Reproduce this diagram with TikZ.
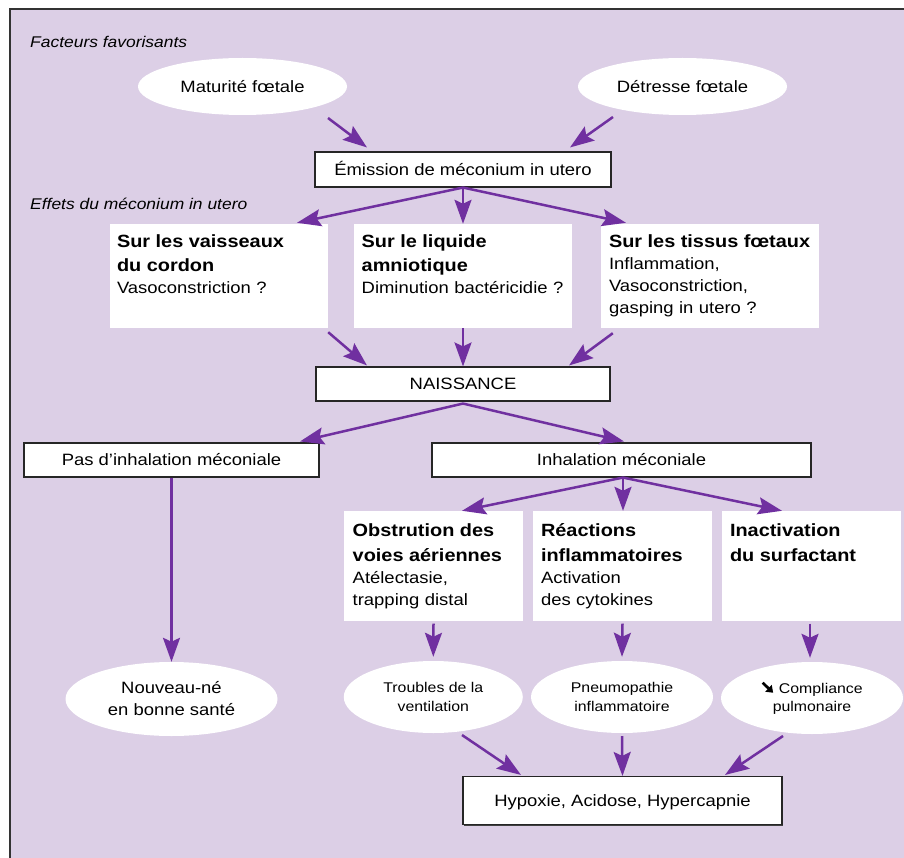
\documentclass[tikz,border=0pt]{standalone}
\usepackage{fontspec}
\setmainfont{Liberation Sans}[FakeStretch=1.125]
\usetikzlibrary{shapes.geometric,arrows.meta,shadows}

\definecolor{panelbg}{RGB}{220,207,230}
\definecolor{flowpurple}{RGB}{112,48,160}
\newcommand\effhead{\fontsize{17.7}{24.5}\selectfont\bfseries}
% heavy south-east arrow used as "decrease" sign
\newcommand\downarr{\tikz[x=1pt,y=1pt,baseline=0pt]{\draw[line width=2.7pt,
  -{Triangle[length=6.5pt,width=9pt]}] (0.5,10.5) -- (11,0.5);}}

\begin{document}
\begin{tikzpicture}[x=1pt,y=-1pt,
  txt/.style={font=\fontsize{16.4}{22}\selectfont, text=black},
  flowbox/.style={txt, draw=black!85, line width=1.1pt, fill=white, inner sep=0pt,
    text height=11.8pt, text depth=0pt,
    drop shadow={shadow xshift=1.2pt, shadow yshift=-1.2pt, fill=black!75, opacity=1}},
  bubble/.style={ellipse, fill=white, inner sep=0pt, align=center},
  effbox/.style={fill=white, inner sep=0pt},
  efftext/.style={txt, inner sep=0pt, text width=#1, anchor=base west, align=left},
  small/.style={font=\fontsize{14.1}{18.4}\selectfont},
  arr/.style={draw=flowpurple, line width=2.5pt,
    -{Stealth[length=24pt,width=17pt,inset=4pt]}},
  tag/.style={font=\fontsize{15.5}{18}\selectfont\itshape, anchor=base west, inner sep=0pt}
]
% panel
\useasboundingbox (0,0) rectangle (904,858);
\begin{scope}
  \clip (0,0) rectangle (904,858);
  \fill[panelbg, draw=black!80, line width=1.3pt] (10,9) rectangle (930,880);
\end{scope}

% contributing factors
\node[tag] (t1) at (30,47.7) {Facteurs favorisants};
\node[bubble, txt, minimum width=209pt, minimum height=57pt] (mat) at (242.5,86.5) {Maturité fœtale};
\node[bubble, txt, minimum width=209pt, minimum height=57pt] (det) at (682.5,86.5) {Détresse fœtale};
\node[flowbox, minimum width=296pt, minimum height=35pt] (emi) at (463,169.5) {Émission de méconium in utero};

% in utero effects
\node[tag] (t2) at (30,209.5) {Effets du méconium in utero};
\node[effbox, minimum width=218pt, minimum height=104pt] (b1) at (219,276) {};
\node[effbox, minimum width=218pt, minimum height=104pt] (b2) at (463,276) {};
\node[effbox, minimum width=218pt, minimum height=104pt] (b3) at (710,276) {};
\node[efftext=208pt] (b1t) at ([shift={(7,23.7)}]b1.north west)
  {{\effhead Sur les vaisseaux\par du cordon\par}Vasoconstriction ?};
\node[efftext=208pt] (b2t) at ([shift={(7.7,23.7)}]b2.north west)
  {{\effhead Sur le liquide\par amniotique\par}Diminution bactéricidie ?};
\node[efftext=208pt] (b3t) at ([shift={(8,23.7)}]b3.north west)
  {{\effhead Sur les tissus fœtaux\par}Inflammation,\par Vasoconstriction,\par gasping in utero ?};

% birth
\node[flowbox, minimum width=294pt, minimum height=34pt] (nai) at (463,384) {NAISSANCE};
\node[flowbox, minimum width=295pt, minimum height=34pt] (pas) at (171.5,460) {Pas d’inhalation méconiale};
\node[flowbox, minimum width=379pt, minimum height=34pt] (inh) at (621.5,460) {Inhalation méconiale};

% consequences of inhalation
\node[effbox, minimum width=179pt, minimum height=110pt] (rA) at (433.5,566) {};
\node[effbox, minimum width=179pt, minimum height=110pt] (rB) at (622.5,566) {};
\node[effbox, minimum width=179pt, minimum height=110pt] (rC) at (811.5,566) {};
\node[efftext=170pt] (rAt) at ([shift={(8.7,25.7)}]rA.north west)
  {{\effhead Obstrution des\par voies aériennes\par}Atélectasie,\par trapping distal};
\node[efftext=170pt] (rBt) at ([shift={(8,25.7)}]rB.north west)
  {{\effhead Réactions\par inflammatoires\par}Activation\par des cytokines};
\node[efftext=170pt] (rCt) at ([shift={(8,25.7)}]rC.north west)
  {{\effhead Inactivation\par du surfactant\par}};

% outcomes
\node[bubble, txt, minimum width=212pt, minimum height=74pt] (nb) at (171.5,699) {Nouveau-né\\en bonne santé};
\node[bubble, small, minimum width=179pt, minimum height=72pt] (el1) at (433.3,697) {Troubles de la\\ventilation};
\node[bubble, small, minimum width=182pt, minimum height=72pt] (el2) at (622,697) {Pneumopathie\\inflammatoire};
\node[bubble, small, minimum width=182pt, minimum height=72pt] (el3) at (812,698)
  {\downarr\ Compliance\\pulmonaire};
\node[flowbox, minimum width=319pt, minimum height=48pt] (hyp) at (622.5,800.5) {Hypoxie, Acidose, Hypercapnie};

% connectors
\draw[arr] ([shift={(85.5,31.5)}]mat.center) -- ([shift={(-96,-4)}]emi.north);
\draw[arr] ([shift={(-69.5,30.5)}]det.center) -- ([shift={(107,-4)}]emi.north);
\draw[arr] (emi.south) -- ([shift={(78,-1)}]b1.north);
\draw[arr] (emi.south) -- (b2.north);
\draw[arr] (emi.south) -- ([shift={(-84,-1)}]b3.north);
\draw[arr] ([shift={(0,4)}]b1.south east) -- ([shift={(-96,-1)}]nai.north);
\draw[arr] (b2.south) -- (nai.north);
\draw[arr] ([shift={(12,5)}]b3.south west) -- ([shift={(106,-1)}]nai.north);
\draw[arr] ([shift={(0,2)}]nai.south) -- ([shift={(128.5,-1)}]pas.north);
\draw[arr] ([shift={(0,2)}]nai.south) -- ([shift={(2.5,-1)}]inh.north);
\draw[arr] (pas.south) -- (nb.north);
\draw[arr] ([shift={(1.5,0)}]inh.south) -- ([shift={(28.5,0)}]rA.north);
\draw[arr] ([shift={(1.5,0)}]inh.south) -- ([shift={(0.5,0)}]rB.north);
\draw[arr] ([shift={(1.5,0)}]inh.south) -- ([shift={(-29.5,0)}]rC.north);
\draw[arr] ([shift={(0,2.5)}]rA.south) -- ([shift={(0,-4)}]el1.north);
\draw[arr] ([shift={(0,2.5)}]rB.south) -- ([shift={(0,-4)}]el2.north);
\draw[arr] ([shift={(-1.5,2.5)}]rC.south) -- ([shift={(-2,-4)}]el3.north);
\draw[arr] ([shift={(28.7,38)}]el1.center) -- ([shift={(-101.5,-1)}]hyp.north);
\draw[arr] ([shift={(0,3)}]el2.south) -- (hyp.north);
\draw[arr] ([shift={(-29,38)}]el3.center) -- ([shift={(102.5,-1)}]hyp.north);
\end{tikzpicture}
\end{document}
